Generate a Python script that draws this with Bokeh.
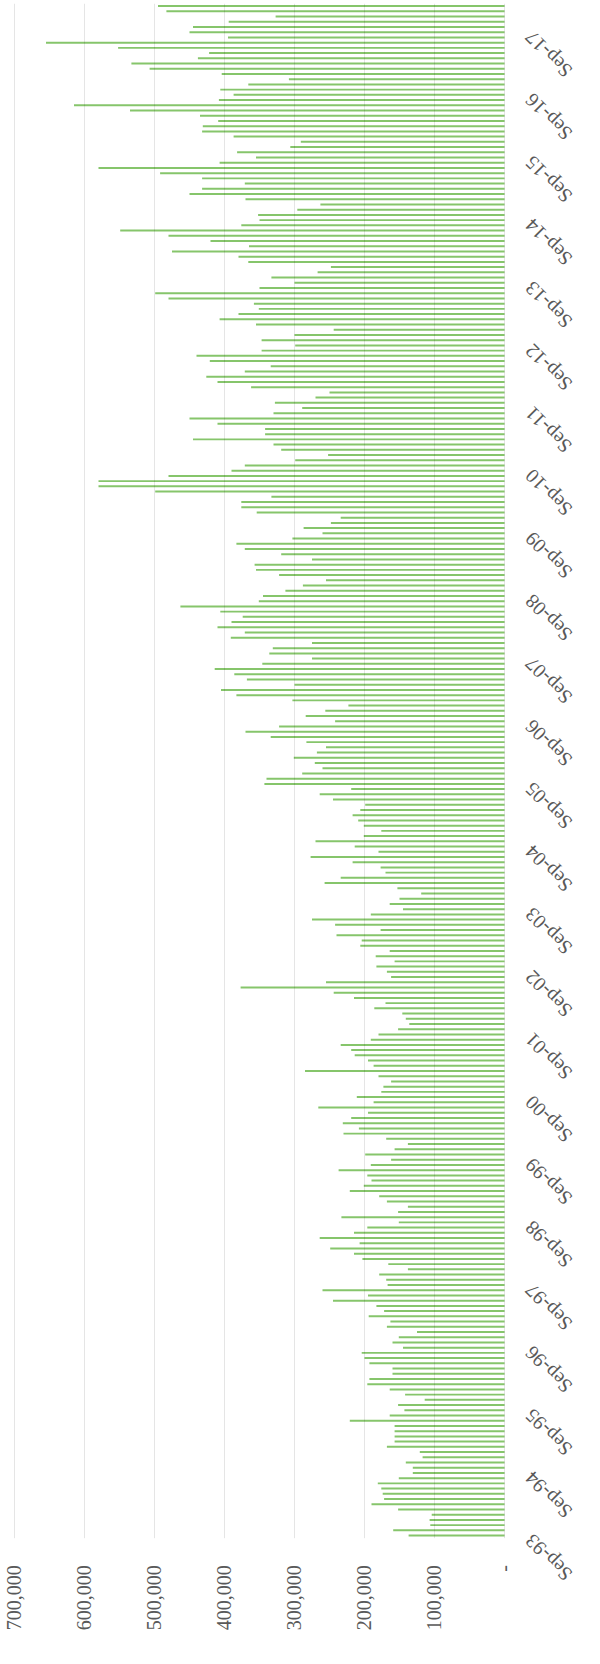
import math
from bokeh.plotting import figure
from bokeh.models import Range1d, ColumnDataSource, LabelSet
from bokeh.embed import file_html
from bokeh.resources import INLINE

# Monthly values (thousands), newest (Feb-18) first down to oldest (Sep-93)
values_k_newest_first = [
    495, 483, 327, 394, 445, 450, 395, 655, 552, 422, 438, 533, 507, 404, 308, 366, 406, 387,
    408, 615, 535, 435, 409, 431, 432, 387, 291, 306, 382, 355, 407, 580, 492, 432, 371, 432,
    450, 370, 263, 296, 352, 350, 376, 549, 480, 420, 365, 475, 380, 366, 248, 267, 333, 300,
    350, 499, 480, 358, 351, 380, 407, 355, 244, 300, 347, 299, 347, 440, 421, 334, 371, 426,
    410, 362,
    250, 270, 328, 289, 330, 450, 410, 342, 342, 445, 330, 319, 252, 299, 371, 390, 480, 580,
    580, 499, 333, 376, 376, 354, 234, 248, 287, 260, 303, 383, 371, 319, 275, 357, 355, 322,
    255, 288, 313,
    345, 351, 463, 406, 374, 390, 410, 371, 391, 275, 331, 336, 275, 346, 414, 386, 368, 300,
    405, 383, 303, 223, 256, 284, 242, 322, 370, 334, 283, 255, 268, 301, 271, 260, 289, 340,
    343, 219,
    264, 245, 199, 206, 217, 209, 201, 176, 201, 270, 214, 180, 277, 217, 177, 170, 234, 257,
    153, 119, 150, 164, 145, 191, 275, 242, 177, 240, 204, 206, 164, 184, 157, 183, 168, 162,
    255, 377,
    244, 215, 170, 186, 146, 141, 136, 152, 180, 191, 234, 219, 214, 195, 187, 285, 180, 162,
    173, 176, 211, 187, 266, 195, 219, 231, 208, 230, 169, 138, 157, 199, 162, 191, 237, 196,
    190, 201, 221,
    179, 168, 138, 152, 233, 151, 196, 215, 264, 207, 249, 215, 203, 166, 138, 179, 169, 167,
    260, 195, 245, 183, 172, 194, 163, 168, 125, 151, 160, 145, 204, 200, 193, 160, 160, 193,
    196, 164,
    142, 114, 152, 143, 164, 221, 157, 157, 157, 157, 168, 121, 117, 141, 131, 131, 151, 181,
    176, 174, 172, 190, 152, 104, 107, 106, 159, 137,
]

# Category tick labels (every September; month index counted from Sep-93)
category_labels = ["Sep-93", "Sep-94", "Sep-95", "Sep-96", "Sep-97", "Sep-98", "Sep-99",
                   "Sep-00", "Sep-01", "Sep-02", "Sep-03", "Sep-04", "Sep-05", "Sep-06",
                   "Sep-07", "Sep-08", "Sep-09", "Sep-10", "Sep-11", "Sep-12", "Sep-13",
                   "Sep-14", "Sep-15", "Sep-16", "Sep-17"]
value_ticks = [0, 100000, 200000, 300000, 400000, 500000, 600000, 700000]
value_tick_labels = ["-", "100,000", "200,000", "300,000", "400,000", "500,000",
                     "600,000", "700,000"]

values = [v * 1000 for v in reversed(values_k_newest_first)]
n = len(values)
month_idx = list(range(n))

FONT = "Lato"
GREY = "#595959"
GREEN = "#86c56b"

# layout (pixels)
FIG_W, FIG_H = 584, 1648
BORDER_T = 3
frame_w = FIG_W
frame_h = FIG_H - BORDER_T
value_px = 490                     # pixels spanned by 0..700,000
left_pad_px = 14                   # room left of the 700,000 gridline
month_px = 5.22                    # pixels per month
vmax = max(value_ticks)
x_start = vmax * (1 + left_pad_px / value_px)
x_end = -(frame_w - left_pad_px - value_px) / value_px * vmax
y_top = n - 0.5
y_bottom = y_top - frame_h / month_px

p = figure(width=FIG_W, height=FIG_H, output_backend="svg", toolbar_location=None,
           x_range=Range1d(x_start, x_end), y_range=Range1d(y_bottom, y_top),
           x_axis_location=None, y_axis_location=None,
           min_border_left=0, min_border_right=0,
           min_border_top=BORDER_T, min_border_bottom=0)
p.outline_line_color = None
p.background_fill_color = "white"
p.xgrid.grid_line_color = None
p.ygrid.grid_line_color = None

p.hbar(y=month_idx, left=0, right=values, height=0.38, fill_color=GREEN,
       line_color=None)

# faint vertical gridlines over the bar area (show through the bars as in the original)
p.segment(x0=value_ticks, x1=value_ticks, y0=[-0.5] * len(value_ticks),
          y1=[y_top] * len(value_ticks), line_color="#000000", line_alpha=0.1,
          line_width=1)

# value-axis tick labels (rotated, under the bar area)
val_src = ColumnDataSource(dict(x=value_ticks, y=[-0.5] * len(value_ticks),
                                text=value_tick_labels))
val_labels = LabelSet(x="x", y="y", text="text", source=val_src, y_offset=-27,
                      angle=math.pi / 2, text_align="right", text_baseline="middle",
                      text_font_size="20px", text_color=GREY)
val_labels.text_font = FONT
p.add_layout(val_labels)

# category-axis tick labels (to the right of the bars)
cat_src = ColumnDataSource(dict(
    x=[0] * len(category_labels),
    y=[12 * i for i in range(len(category_labels))],
    text=category_labels,
))
cat_labels = LabelSet(x="x", y="y", text="text", source=cat_src, x_offset=24, y_offset=-2,
                      angle=3 * math.pi / 4, text_align="right", text_baseline="middle",
                      text_font_size="20px", text_color=GREY)
cat_labels.text_font = FONT
p.add_layout(cat_labels)

open("out.html", "w").write(file_html(p, INLINE))
